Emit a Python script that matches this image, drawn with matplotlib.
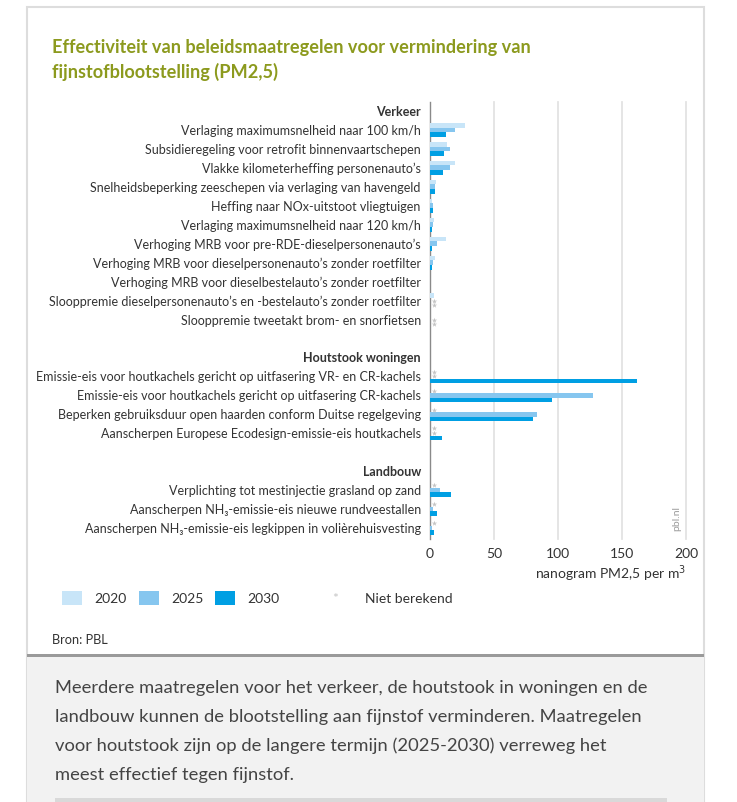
import matplotlib
matplotlib.use('Agg')
import matplotlib.pyplot as plt
from matplotlib.patches import Rectangle
import numpy as np

plt.rcParams['font.family'] = ['Lato', 'DejaVu Sans']

# data (nanogram PM2,5 per m3), None = niet berekend
sections = ['Verkeer', 'Houtstook woningen', 'Landbouw']
measures = [
    ['Verlaging maximumsnelheid naar 100 km/h',
     'Subsidieregeling voor retrofit binnenvaartschepen',
     'Vlakke kilometerheffing personenauto\u2019s',
     'Snelheidsbeperking zeeschepen via verlaging van havengeld',
     'Heffing naar NOx-uitstoot vliegtuigen',
     'Verlaging maximumsnelheid naar 120 km/h',
     'Verhoging MRB voor pre-RDE-dieselpersonenauto\u2019s',
     'Verhoging MRB voor dieselpersonenauto\u2019s zonder roetfilter',
     'Verhoging MRB voor dieselbestelauto\u2019s zonder roetfilter',
     'Sloopppremie dieselpersonenauto\u2019s en -bestelauto\u2019s zonder roetfilter'.replace('ppp', 'pp'),
     'Sloopppremie tweetakt brom- en snorfietsen'.replace('ppp', 'pp')],
    ['Emissie-eis voor houtkachels gericht op uitfasering VR- en CR-kachels',
     'Emissie-eis voor houtkachels gericht op uitfasering CR-kachels',
     'Beperken gebruiksduur open haarden conform Duitse regelgeving',
     'Aanscherpen Europese Ecodesign-emissie-eis houtkachels'],
    ['Verplichting tot mestinjectie grasland op zand',
     'Aanscherpen NH\u2083-emissie-eis nieuwe rundveestallen',
     'Aanscherpen NH\u2083-emissie-eis legkippen in voli\u00e8rehuisvesting'],
]
v2020 = [[27.3, 13.5, 19.8, 4.9, 1.6, 2.9, 12.5, 3.6, 0, 2.9, 0],
         [None, None, None, None],
         [None, None, None]]
v2025 = [[19.5, 15.9, 15.6, 4.2, 2.1, 2.1, 5.7, 2.1, 0, None, None],
         [None, 127.6, 83.3, None],
         [8.1, 2.3, 1.6]]
v2030 = [[12.2, 11.2, 10.2, 4.2, 2.3, 1.6, 1.6, 1.3, 0, None, None],
         [161.7, 95.1, 80.7, 9.6],
         [16.7, 5.2, 3.1]]
years = ['2020', '2025', '2030']
colors = ['#c8e5f8', '#86c6ef', '#009fe3']
star_color = '#c4c4c4'

fig = plt.figure(figsize=(7.37, 8.03), dpi=100)
W, H = 737, 803

def fx(px):
    return px / W

def fy(py):
    return 1 - py / H

# frame and caption background (behind the axes)
fig.patches.append(Rectangle((fx(27), fy(803)), fx(677), fy(8) - fy(803),
                             transform=fig.transFigure, facecolor='white',
                             edgecolor='#dddddd', lw=1.5, zorder=-5))
fig.patches.append(Rectangle((fx(27), fy(803)), fx(677), fy(656) - fy(803),
                             transform=fig.transFigure, facecolor='#f2f2f2',
                             edgecolor='none', zorder=-4))
fig.patches.append(Rectangle((fx(27), fy(658)), fx(677), fy(655) - fy(658),
                             transform=fig.transFigure, facecolor='#9a9a9a',
                             edgecolor='none', zorder=-3))
fig.patches.append(Rectangle((fx(55), fy(803)), fx(612), fy(799) - fy(803),
                             transform=fig.transFigure, facecolor='#d9d9d9',
                             edgecolor='none', zorder=-3))

fig.text(fx(52), fy(48), 'Effectiviteit van beleidsmaatregelen voor vermindering van',
         color='#8c9a1e', fontsize=13.1, fontweight='bold', va='center', ha='left')
fig.text(fx(52), fy(72), 'fijnstofblootstelling (PM2,5)',
         color='#8c9a1e', fontsize=13.1, fontweight='bold', va='center', ha='left')

ax = fig.add_axes([fx(430), fy(540), fx(256), fy(103) - fy(540)])
ax.patch.set_alpha(0)
ax.set_zorder(2)

slot = 0
label_pos = []
for s, sec in enumerate(sections):
    label_pos.append((slot, sec, True))
    slot += 1
    for i, m in enumerate(measures[s]):
        label_pos.append((slot, m, False))
        for k, vals in enumerate([v2020, v2025, v2030]):
            v = vals[s][i]
            yy = slot + (k - 1) * 0.25
            if v is None:
                ax.scatter([3], [yy], marker='*', s=16, color=star_color,
                           linewidths=0, zorder=4)
            elif v > 0:
                ax.barh(yy, v, height=0.25, color=colors[k], zorder=3)
        slot += 1
    slot += 1

for y, txt, bold in label_pos:
    ax.text(-0.036, y, txt, transform=ax.get_yaxis_transform(), ha='right', va='center',
            fontsize=9.0, color='#333333', fontweight='bold' if bold else 'normal')

ax.set_ylim(22.58, -0.475)
ax.set_xlim(0, 200)
for g in [50, 100, 150, 200]:
    ax.axvline(g, color='#e3e3e3', lw=1.3, zorder=1, clip_on=False)
for sp in ['top', 'right', 'bottom']:
    ax.spines[sp].set_visible(False)
ax.spines['left'].set_color('#8a8a8a')
ax.spines['left'].set_linewidth(1.0)
ax.set_yticks([])
ax.set_xticks([0, 50, 100, 150, 200])
ax.tick_params(axis='x', length=0, pad=6, labelsize=10, labelcolor='#333333')
ax.text(1.0, -0.077, 'nanogram PM2,5 per m$^3$', transform=ax.transAxes, ha='right',
        va='center', fontsize=10, color='#333333')
ax.text(0.965, 0.05, 'pbl.nl', transform=ax.transAxes, rotation=90, ha='center',
        va='center', fontsize=7.5, color='#9a9a9a')

# legend
lx = [62, 139, 215]
for k in range(3):
    fig.patches.append(Rectangle((fx(lx[k]), fy(606)), fx(20), fy(592) - fy(606),
                                 transform=fig.transFigure, facecolor=colors[k],
                                 edgecolor='none', zorder=3))
    fig.text(fx(lx[k] + 32), fy(599), years[k], fontsize=10, color='#333333',
             va='center', ha='left')
fig.text(fx(335), fy(599), '*', fontsize=10, color=star_color, va='center', ha='center')
fig.text(fx(365), fy(599), 'Niet berekend', fontsize=10, color='#333333',
         va='center', ha='left')

fig.text(fx(52), fy(640), 'Bron: PBL', fontsize=9.2, color='#333333', va='center', ha='left')

caption = ['Meerdere maatregelen voor het verkeer, de houtstook in woningen en de',
           'landbouw kunnen de blootstelling aan fijnstof verminderen. Maatregelen',
           'voor houtstook zijn op de langere termijn (2025-2030) verreweg het',
           'meest effectief tegen fijnstof.']
for i, line in enumerate(caption):
    fig.text(fx(55), fy(688 + 29 * i), line, fontsize=13.2, color='#444444',
             va='center', ha='left')

plt.savefig('out.png', dpi=100)
